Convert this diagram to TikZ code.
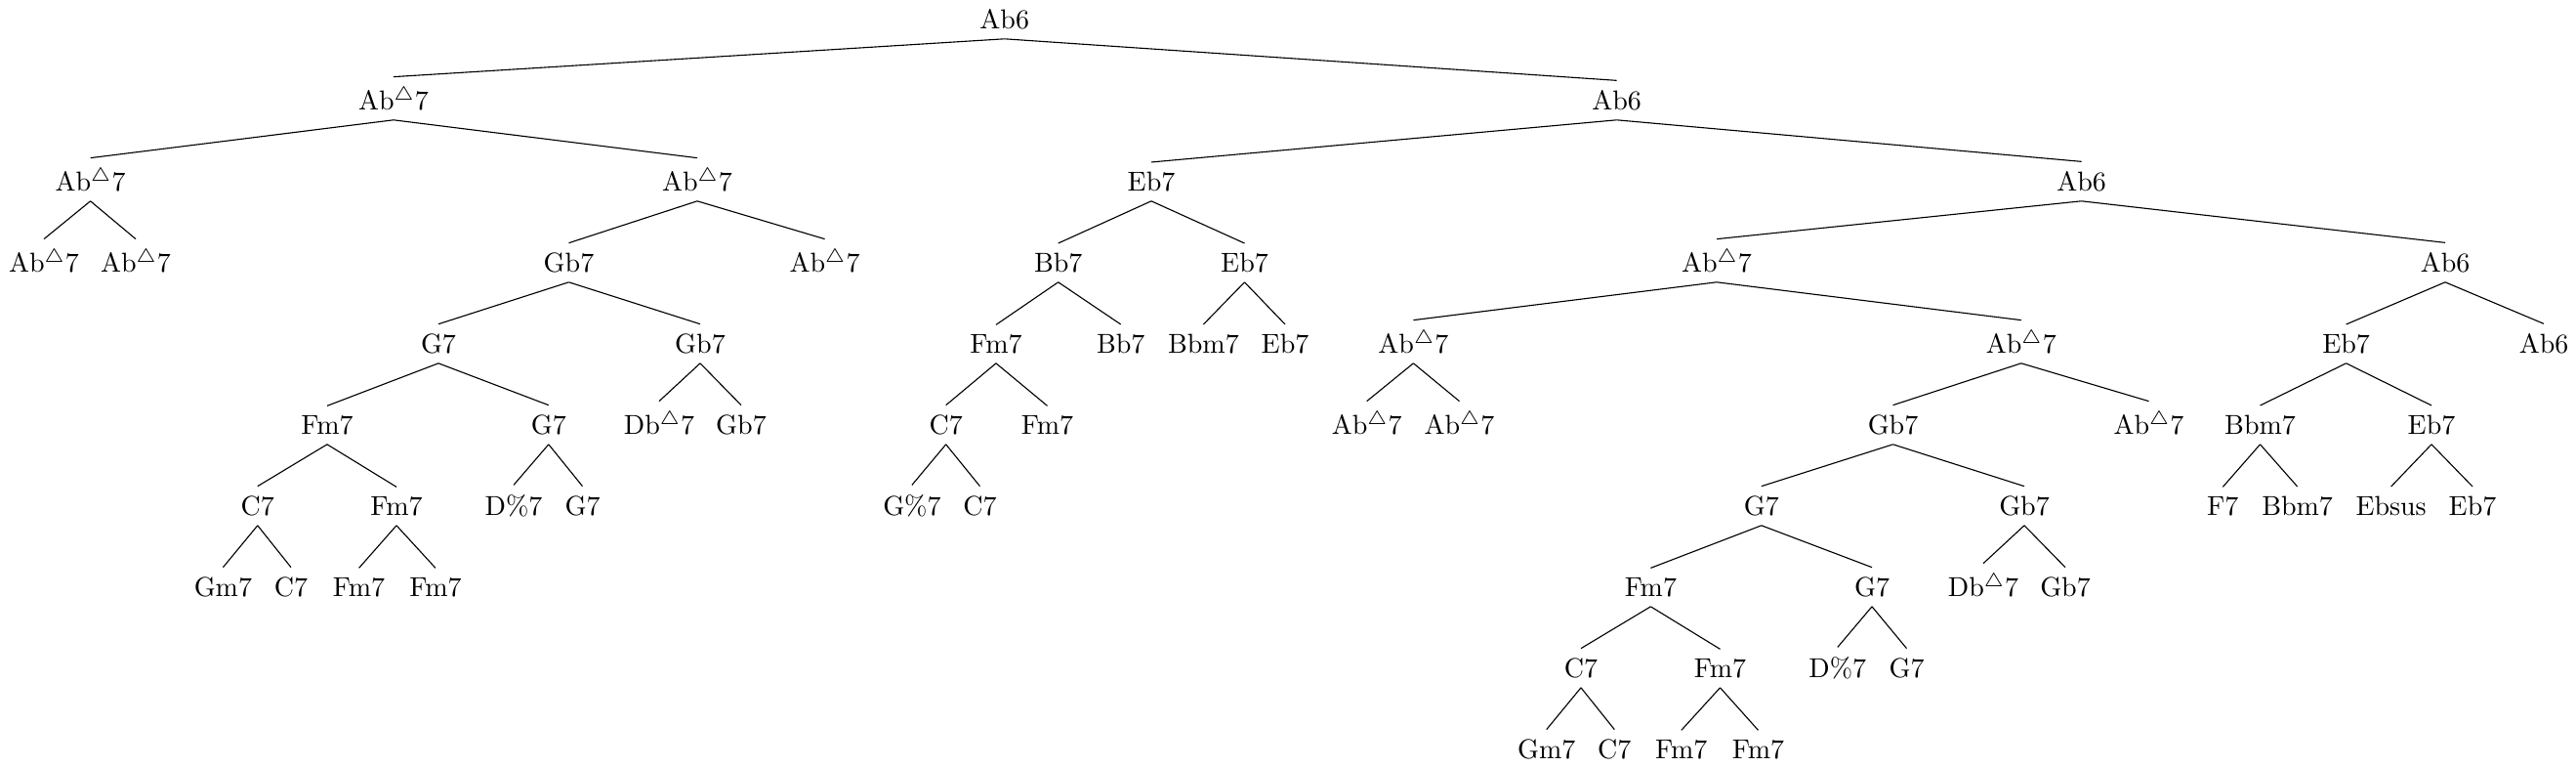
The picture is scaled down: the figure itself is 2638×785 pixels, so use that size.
\documentclass[tikz,border=0pt]{standalone}
\usepackage{amsmath}
\begin{document}
\begin{tikzpicture}[x=0.35714pt,y=-0.35714pt,
  chord/.style={anchor=base, inner sep=0.3333em},
  branch/.style={draw=black, line width=0.4pt}]
\useasboundingbox (0,0) rectangle (2638,785);
\newcommand{\maj}{Ab$^{\triangle}$7}
% level 0-1
\node[chord] (r) at (1028.7,29.3) {Ab6};
\node[chord] (a) at (403,112.3) {\maj};
\node[chord] (b) at (1655.6,112.3) {Ab6};
% left subtree
\node[chord] (a1) at (92.6,195.3) {\maj};
\node[chord] (a2) at (714,195.3) {\maj};
\node[chord] (a11) at (45,278.3) {\maj};
\node[chord] (a12) at (139,278.3) {\maj};
\node[chord] (a21) at (582.5,278.3) {Gb7};
\node[chord] (a22) at (844.6,278.3) {\maj};
\node[chord] (a211) at (449,361.3) {G7};
\node[chord] (a212) at (717,361.3) {Gb7};
\node[chord] (a2111) at (335,444.3) {Fm7};
\node[chord] (a2112) at (561.8,444.3) {G7};
\node[chord] (a2121) at (675,444.3) {Db$^{\triangle}$7};
\node[chord] (a2122) at (759,444.3) {Gb7};
\node[chord] (a21111) at (263.8,527.3) {C7};
\node[chord] (a21112) at (406,527.3) {Fm7};
\node[chord] (a21121) at (526,527.3) {D\%7};
\node[chord] (a21122) at (596.5,527.3) {G7};
\node[chord] (a211111) at (228.4,610.3) {Gm7};
\node[chord] (a211112) at (298,610.3) {C7};
\node[chord] (a211121) at (367.6,610.3) {Fm7};
\node[chord] (a211122) at (446,610.3) {Fm7};
% right subtree
\node[chord] (b1) at (1179,195.3) {Eb7};
\node[chord] (b2) at (2131.5,195.3) {Ab6};
\node[chord] (b11) at (1083.7,278.3) {Bb7};
\node[chord] (b12) at (1274.5,278.3) {Eb7};
\node[chord] (b111) at (1020,361.3) {Fm7};
\node[chord] (b112) at (1147.7,361.3) {Bb7};
\node[chord] (b121) at (1232.4,361.3) {Bbm7};
\node[chord] (b122) at (1316,361.3) {Eb7};
\node[chord] (b1111) at (968.7,444.3) {C7};
\node[chord] (b1112) at (1072.5,444.3) {Fm7};
\node[chord] (b11111) at (933.9,527.3) {G\%7};
\node[chord] (b11112) at (1003.5,527.3) {C7};
\node[chord] (b21) at (1758,278.3) {\maj};
\node[chord] (b22) at (2504,278.3) {Ab6};
\node[chord] (b211) at (1447.4,361.3) {\maj};
\node[chord] (b212) at (2069.8,361.3) {\maj};
\node[chord] (b2111) at (1399.7,444.3) {\maj};
\node[chord] (b2112) at (1494.5,444.3) {\maj};
\node[chord] (b2121) at (1938.5,444.3) {Gb7};
\node[chord] (b2122) at (2200.5,444.3) {\maj};
\node[chord] (b21211) at (1803.8,527.3) {G7};
\node[chord] (b21212) at (2073,527.3) {Gb7};
\node[chord] (b212111) at (1690.4,610.3) {Fm7};
\node[chord] (b212112) at (1917,610.3) {G7};
\node[chord] (b212121) at (2031,610.3) {Db$^{\triangle}$7};
\node[chord] (b212122) at (2115,610.3) {Gb7};
\node[chord] (b2121111) at (1619,693.3) {C7};
\node[chord] (b2121112) at (1761.5,693.3) {Fm7};
\node[chord] (b2121121) at (1881.8,693.3) {D\%7};
\node[chord] (b2121122) at (1952.5,693.3) {G7};
\node[chord] (b21211111) at (1583.7,776.3) {Gm7};
\node[chord] (b21211112) at (1653.3,776.3) {C7};
\node[chord] (b21211121) at (1721.8,776.3) {Fm7};
\node[chord] (b21211122) at (1800.5,776.3) {Fm7};
\node[chord] (b221) at (2402.6,361.3) {Eb7};
\node[chord] (b222) at (2605,361.3) {Ab6};
\node[chord] (b2211) at (2314.5,444.3) {Bbm7};
\node[chord] (b2212) at (2490,444.3) {Eb7};
\node[chord] (b22111) at (2276.3,527.3) {F7};
\node[chord] (b22112) at (2352.6,527.3) {Bbm7};
\node[chord] (b22121) at (2448.6,527.3) {Ebsus};
\node[chord] (b22122) at (2532,527.3) {Eb7};
% branches
\foreach \p/\c in {r/a,r/b,
  a/a1,a/a2,a1/a11,a1/a12,a2/a21,a2/a22,a21/a211,a21/a212,
  a211/a2111,a211/a2112,a212/a2121,a212/a2122,
  a2111/a21111,a2111/a21112,a2112/a21121,a2112/a21122,
  a21111/a211111,a21111/a211112,a21112/a211121,a21112/a211122,
  b/b1,b/b2,b1/b11,b1/b12,b11/b111,b11/b112,b12/b121,b12/b122,
  b111/b1111,b111/b1112,b1111/b11111,b1111/b11112,
  b2/b21,b2/b22,b21/b211,b21/b212,b211/b2111,b211/b2112,
  b212/b2121,b212/b2122,b2121/b21211,b2121/b21212,
  b21211/b212111,b21211/b212112,b21212/b212121,b21212/b212122,
  b212111/b2121111,b212111/b2121112,b212112/b2121121,b212112/b2121122,
  b2121111/b21211111,b2121111/b21211112,b2121112/b21211121,b2121112/b21211122,
  b22/b221,b22/b222,b221/b2211,b221/b2212,
  b2211/b22111,b2211/b22112,b2212/b22121,b2212/b22122}
  \draw[branch] (\p.south) -- (\c.north);
\end{tikzpicture}
\end{document}
